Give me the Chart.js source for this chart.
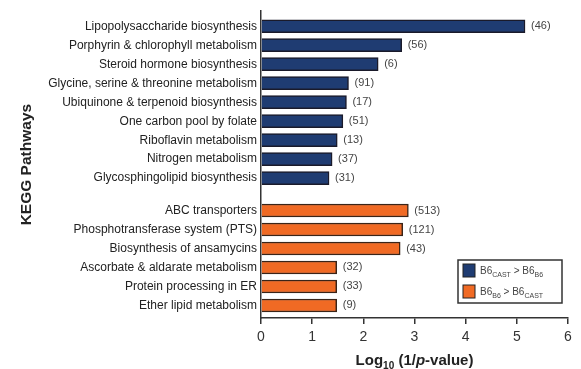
<!DOCTYPE html>
<html>
<head>
<meta charset="utf-8">
<script src="https://cdn.jsdelivr.net/npm/chart.js@4"></script>
<style>
  html, body { margin: 0; padding: 0; background: #fff; }
  #wrap { width: 581px; height: 369px; }
</style>
</head>
<body>
<div id="wrap"><canvas id="c" width="581" height="369"></canvas></div>
<script>
// ---- Data ----
const castPathways = [
  "Lipopolysaccharide biosynthesis",
  "Porphyrin & chlorophyll metabolism",
  "Steroid hormone biosynthesis",
  "Glycine, serine & threonine metabolism",
  "Ubiquinone & terpenoid biosynthesis",
  "One carbon pool by folate",
  "Riboflavin metabolism",
  "Nitrogen metabolism",
  "Glycosphingolipid biosynthesis"
];
const castValues = [5.16, 2.75, 2.29, 1.71, 1.67, 1.60, 1.49, 1.39, 1.33];
const castCounts = [46, 56, 6, 91, 17, 51, 13, 37, 31];

const b6Pathways = [
  "ABC transporters",
  "Phosphotransferase system (PTS)",
  "Biosynthesis of ansamycins",
  "Ascorbate & aldarate metabolism",
  "Protein processing in ER",
  "Ether lipid metabolism"
];
const b6Values = [2.88, 2.77, 2.72, 1.48, 1.48, 1.48];
const b6Counts = [513, 121, 43, 32, 33, 9];

const xTicks = [0, 1, 2, 3, 4, 5, 6];

// ---- Build ----
const FONT = "'Liberation Sans', Arial, Helvetica, sans-serif";
const NAVY = '#1f3c72';
const ORANGE = '#f06a24';
const GROUP_GAP = 0.7; // extra space (in rows) between the two groups

const castRows = castPathways.map((_, i) => i);
const b6Rows = b6Pathways.map((_, i) => castPathways.length + GROUP_GAP + i);
const allRows = castRows.concat(b6Rows);
const allLabels = castPathways.concat(b6Pathways);

const castData = castValues.map((v, i) => ({ x: v, y: castRows[i] }));
const b6Data = b6Values.map((v, i) => ({ x: v, y: b6Rows[i] }));

const countLabels = {
  id: 'countLabels',
  afterDatasetsDraw(chart) {
    const ctx = chart.ctx;
    ctx.save();
    ctx.font = '11px ' + FONT;
    ctx.fillStyle = '#444';
    ctx.textAlign = 'left';
    ctx.textBaseline = 'middle';
    [castCounts, b6Counts].forEach((counts, di) => {
      const meta = chart.getDatasetMeta(di);
      meta.data.forEach((el, i) => {
        ctx.fillText('(' + counts[i] + ')', el.x + 6, el.y);
      });
    });
    ctx.restore();
  }
};

function drawRich(ctx, parts, x, y) {
  let cx = x;
  parts.forEach(p => {
    ctx.font = p[1];
    ctx.fillText(p[0], cx, y + (p[2] || 0));
    cx += ctx.measureText(p[0]).width;
  });
  return cx;
}
function richWidth(ctx, parts) {
  let w = 0;
  parts.forEach(p => { ctx.font = p[1]; w += ctx.measureText(p[0]).width; });
  return w;
}

const customText = {
  id: 'customText',
  afterDraw(chart) {
    const ctx = chart.ctx;
    const area = chart.chartArea;
    ctx.save();
    ctx.textBaseline = 'alphabetic';
    ctx.textAlign = 'left';
    ctx.fillStyle = '#222';
    // x axis title
    const big = 'bold 15px ' + FONT;
    const sub = 'bold 10px ' + FONT;
    const it = 'italic bold 15px ' + FONT;
    const tparts = [['Log', big, 0], ['10', sub, 4], [' (1/', big, 0], ['p', it, 0], ['-value)', big, 0]];
    const tw = richWidth(ctx, tparts);
    drawRich(ctx, tparts, (area.left + area.right) / 2 - tw / 2, 365);

    // legend
    const lx = area.right - 110, ly = area.bottom - 58, lw = 104, lh = 43;
    ctx.strokeStyle = '#333';
    ctx.lineWidth = 1.5;
    ctx.strokeRect(lx, ly, lw, lh);
    const items = [
      [NAVY, [['B6', '10px ' + FONT, 0], ['CAST', '7px ' + FONT, 3], [' > B6', '10px ' + FONT, 0], ['B6', '7px ' + FONT, 3]]],
      [ORANGE, [['B6', '10px ' + FONT, 0], ['B6', '7px ' + FONT, 3], [' > B6', '10px ' + FONT, 0], ['CAST', '7px ' + FONT, 3]]]
    ];
    items.forEach((item, k) => {
      const sy = ly + 4 + k * 21;
      ctx.fillStyle = item[0];
      ctx.fillRect(lx + 5, sy, 12, 13);
      ctx.strokeStyle = '#222';
      ctx.lineWidth = 1;
      ctx.strokeRect(lx + 5, sy, 12, 13);
      ctx.fillStyle = '#444';
      drawRich(ctx, item[1], lx + 22, sy + 10);
    });
    ctx.restore();
  }
};

new Chart(document.getElementById('c'), {
  type: 'bar',
  data: {
    datasets: [
      {
        label: 'B6 CAST > B6 B6',
        data: castData,
        backgroundColor: NAVY,
        borderColor: '#1a1a2a',
        borderWidth: 1.5,
        grouped: false,
        barThickness: 13
      },
      {
        label: 'B6 B6 > B6 CAST',
        data: b6Data,
        backgroundColor: ORANGE,
        borderColor: '#3a2418',
        borderWidth: 1.5,
        grouped: false,
        barThickness: 13
      }
    ]
  },
  options: {
    indexAxis: 'y',
    responsive: false,
    animation: false,
    devicePixelRatio: 1,
    layout: { padding: { top: 10, right: 13, left: 0, bottom: 0 } },
    plugins: { legend: { display: false }, tooltip: { enabled: false } },
    scales: {
      x: {
        type: 'linear',
        min: 0,
        max: 6,
        afterBuildTicks(scale) { scale.ticks = xTicks.map(v => ({ value: v })); },
        afterFit(scale) { scale.height = 51; },
        ticks: { color: '#333', font: { family: FONT, size: 14 }, padding: 5 },
        grid: { display: true, drawOnChartArea: false, drawTicks: true, tickLength: 6, color: '#333', lineWidth: 1.5 },
        border: { display: true, color: '#333', width: 1.5 },
        title: { display: false }
      },
      y: {
        type: 'linear',
        reverse: true,
        offset: false,
        bounds: 'data',
        min: -0.79,
        max: 15.36,
        afterBuildTicks(scale) { scale.ticks = allRows.map(v => ({ value: v })); },
        afterFit(scale) { scale.width = 261; },
        ticks: {
          color: '#222',
          font: { family: FONT, size: 12 },
          padding: 4,
          autoSkip: false,
          callback: (value, index) => allLabels[index]
        },
        grid: { display: true, offset: false, drawOnChartArea: false, drawTicks: false, tickLength: 0 },
        border: { display: true, color: '#333', width: 1.5 },
        title: {
          display: true,
          text: 'KEGG Pathways',
          color: '#222',
          font: { family: FONT, size: 15.5, weight: 'bold' },
          padding: { top: 17, bottom: 0 }
        }
      }
    }
  },
  plugins: [countLabels, customText]
});
</script>
</body>
</html>
